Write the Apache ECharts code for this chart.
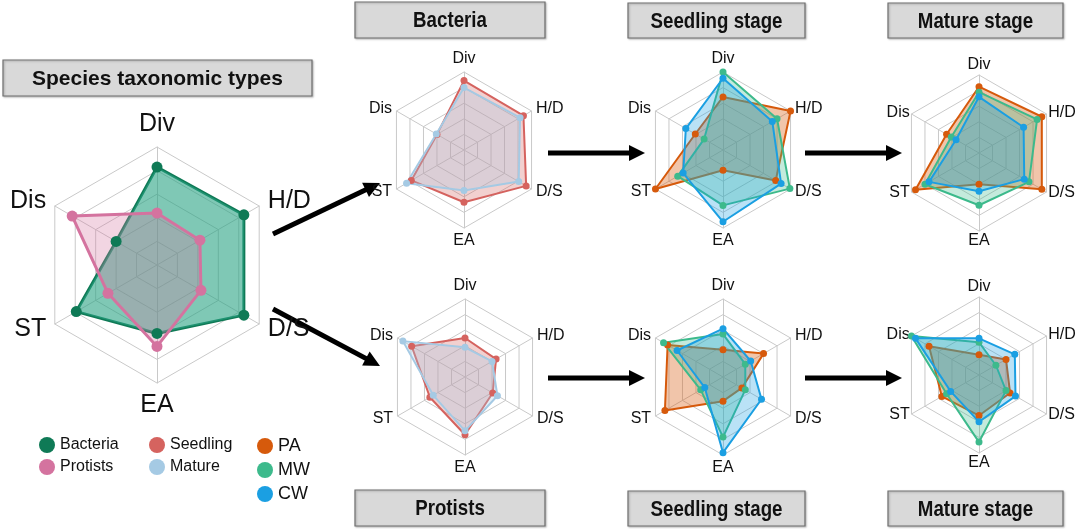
<!DOCTYPE html>
<html>
<head>
<meta charset="utf-8">
<script src="https://cdn.jsdelivr.net/npm/echarts@6/dist/echarts.min.js"></script>
<style>
  html, body { margin: 0; padding: 0; background: #fff; }
  #chart { width: 1080px; height: 529px; }
</style>
</head>
<body>
<div id="chart"></div>
<script>
// axis order goes counter-clockwise from the top
const axes = ['Div', 'Dis', 'ST', 'EA', 'D/S', 'H/D']

// species taxonomic types
const bacteria = [0.83, 0.40, 0.79, 0.58, 0.85, 0.85]
const protists = [0.44, 0.83, 0.48, 0.69, 0.43, 0.42]

// seedling vs mature
const bacSeedling = [0.89, 0.40, 0.78, 0.67, 0.92, 0.88]
const bacMature = [0.80, 0.41, 0.85, 0.52, 0.81, 0.83]
const proSeedling = [0.50, 0.79, 0.52, 0.74, 0.41, 0.46]
const proMature = [0.38, 0.92, 0.47, 0.69, 0.48, 0.40]

// bacteria, seedling stage
const bacSeedPA = [0.68, 0.41, 1.00, 0.26, 0.78, 1.00]
const bacSeedMW = [1.00, 0.28, 0.67, 0.71, 0.99, 0.80]
const bacSeedCW = [0.92, 0.55, 0.59, 0.92, 0.86, 0.73]
// bacteria, mature stage
const bacMatPA = [0.85, 0.48, 0.94, 0.40, 0.93, 0.93]
const bacMatMW = [0.78, 0.41, 0.80, 0.67, 0.74, 0.86]
const bacMatCW = [0.72, 0.34, 0.74, 0.49, 0.67, 0.66]
// protists, seedling stage
const proSeedPA = [0.35, 0.82, 0.86, 0.31, 0.28, 0.60]
const proSeedMW = [0.55, 0.88, 0.33, 0.77, 0.33, 0.33]
const proSeedCW = [0.62, 0.68, 0.27, 0.97, 0.57, 0.41]
// protists, mature stage
const proMatPA = [0.26, 0.74, 0.55, 0.52, 0.46, 0.40]
const proMatMW = [0.42, 1.00, 0.48, 0.86, 0.40, 0.25]
const proMatCW = [0.47, 0.94, 0.42, 0.60, 0.54, 0.53]

const FONT = '"Liberation Sans", Arial, Helvetica, sans-serif'

const colors = {
  Bacteria: '#0f7a56',
  Protists: '#d4739f',
  Seedling: '#d5635f',
  Mature: '#a5cae4',
  PA: '#d65a0c',
  MW: '#3dba8c',
  CW: '#1b9fe2',
}
// fill colours, where they differ from the line
const fills = {
  Bacteria: '#2aa384',
}

const makeRadar = (center, radius, fontSize, nameGap) => ({
  center,
  radius,
  startAngle: 90,
  splitNumber: 5,
  shape: 'polygon',
  indicator: axes.map(name => ({ name, min: 0, max: 1 })),
  axisName: { color: '#111', fontSize, fontFamily: FONT },
  nameGap,
  splitLine: { lineStyle: { color: '#c9c9c9', width: 1 } },
  splitArea: { show: false },
  axisLine: { lineStyle: { color: '#c9c9c9', width: 1 } },
  axisTick: { show: false },
  axisLabel: { show: false },
})

const makeSeries = (name, radarIndex, values, big, fillOpacity) => ({
  type: 'radar',
  name,
  radarIndex,
  symbol: 'circle',
  symbolSize: big ? 11 : 7,
  lineStyle: { color: colors[name], width: big ? 3 : 2 },
  itemStyle: { color: colors[name] },
  areaStyle: { color: fills[name] || colors[name], opacity: fillOpacity },
  emphasis: { disabled: true },
  data: [{ value: values, name }],
})

const headerBox = (x, y, w, h, text, fontSize, squeeze) => ({
  type: 'group',
  children: [
    {
      type: 'rect',
      shape: { x, y, width: w, height: h },
      style: {
        fill: '#d9d9d9', stroke: '#6e6e6e', lineWidth: 1.2,
        shadowColor: 'rgba(0,0,0,0.25)', shadowBlur: 2, shadowOffsetX: 1, shadowOffsetY: 1,
      },
    },
    {
      type: 'text',
      x: x + w / 2,
      y: y + h / 2 + 1,
      scaleX: squeeze,
      style: {
        text,
        fill: '#111',
        font: `bold ${fontSize}px ${FONT}`,
        align: 'center',
        verticalAlign: 'middle',
      },
    },
  ],
})

const arrow = (x1, y1, x2, y2) => {
  const a = Math.atan2(y2 - y1, x2 - x1)
  const len = 16, half = 8
  const bx = x2 - len * Math.cos(a), by = y2 - len * Math.sin(a)
  const px = -Math.sin(a) * half, py = Math.cos(a) * half
  return {
    type: 'group',
    children: [
      {
        type: 'line',
        shape: { x1, y1, x2: bx + Math.cos(a) * 2, y2: by + Math.sin(a) * 2 },
        style: { stroke: '#000', lineWidth: 5 },
      },
      {
        type: 'polygon',
        shape: { points: [[x2, y2], [bx + px, by + py], [bx - px, by - py]] },
        style: { fill: '#000' },
      },
    ],
  }
}

const chart = echarts.init(document.getElementById('chart'))

const legendBase = {
  orient: 'vertical',
  icon: 'circle',
  itemWidth: 16,
  itemHeight: 16,
  selectedMode: false,
  top: 432,
}

chart.setOption({
  animation: false,
  radar: [
    makeRadar([157, 265], 118, 25, 10),
    makeRadar([464, 150], 78, 16, 5),
    makeRadar([723, 150], 78, 16, 5),
    makeRadar([979, 153], 78, 16, 2),
    makeRadar([465, 377], 78, 16, 5),
    makeRadar([723, 377], 78, 16, 5),
    makeRadar([979, 375], 78, 16, 2),
  ],
  legend: [
    { ...legendBase, left: 34, itemGap: 6, data: ['Bacteria', 'Protists'],
      textStyle: { fontSize: 16, color: '#111', fontFamily: FONT } },
    { ...legendBase, left: 144, itemGap: 6, data: ['Seedling', 'Mature'],
      textStyle: { fontSize: 16, color: '#111', fontFamily: FONT } },
    { ...legendBase, left: 252, itemGap: 6, data: ['PA', 'MW', 'CW'],
      textStyle: { fontSize: 18, color: '#111', fontFamily: FONT } },
  ],
  series: [
    makeSeries('Bacteria', 0, bacteria, true, 0.6),
    makeSeries('Protists', 0, protists, true, 0.3),

    makeSeries('Seedling', 1, bacSeedling, false, 0.3),
    makeSeries('Mature', 1, bacMature, false, 0.3),

    makeSeries('PA', 2, bacSeedPA, false, 0.35),
    makeSeries('MW', 2, bacSeedMW, false, 0.3),
    makeSeries('CW', 2, bacSeedCW, false, 0.3),

    makeSeries('PA', 3, bacMatPA, false, 0.35),
    makeSeries('MW', 3, bacMatMW, false, 0.3),
    makeSeries('CW', 3, bacMatCW, false, 0.3),

    makeSeries('Seedling', 4, proSeedling, false, 0.3),
    makeSeries('Mature', 4, proMature, false, 0.3),

    makeSeries('PA', 5, proSeedPA, false, 0.35),
    makeSeries('MW', 5, proSeedMW, false, 0.3),
    makeSeries('CW', 5, proSeedCW, false, 0.3),

    makeSeries('PA', 6, proMatPA, false, 0.35),
    makeSeries('MW', 6, proMatMW, false, 0.3),
    makeSeries('CW', 6, proMatCW, false, 0.3),
  ],
  graphic: [
    headerBox(3, 60, 309, 36, 'Species taxonomic types', 21, 1),
    headerBox(355, 2, 190, 36, 'Bacteria', 22, 0.85),
    headerBox(628, 3, 177, 35, 'Seedling stage', 22, 0.85),
    headerBox(888, 3, 175, 35, 'Mature stage', 22, 0.85),
    headerBox(355, 490, 190, 36, 'Protists', 22, 0.85),
    headerBox(628, 491, 177, 35, 'Seedling stage', 22, 0.85),
    headerBox(888, 491, 175, 35, 'Mature stage', 22, 0.85),
    arrow(273, 234, 380, 183),
    arrow(273, 309, 380, 366),
    arrow(548, 153, 645, 153),
    arrow(805, 153, 902, 153),
    arrow(548, 378, 645, 378),
    arrow(805, 378, 902, 378),
  ],
})
</script>
</body>
</html>
